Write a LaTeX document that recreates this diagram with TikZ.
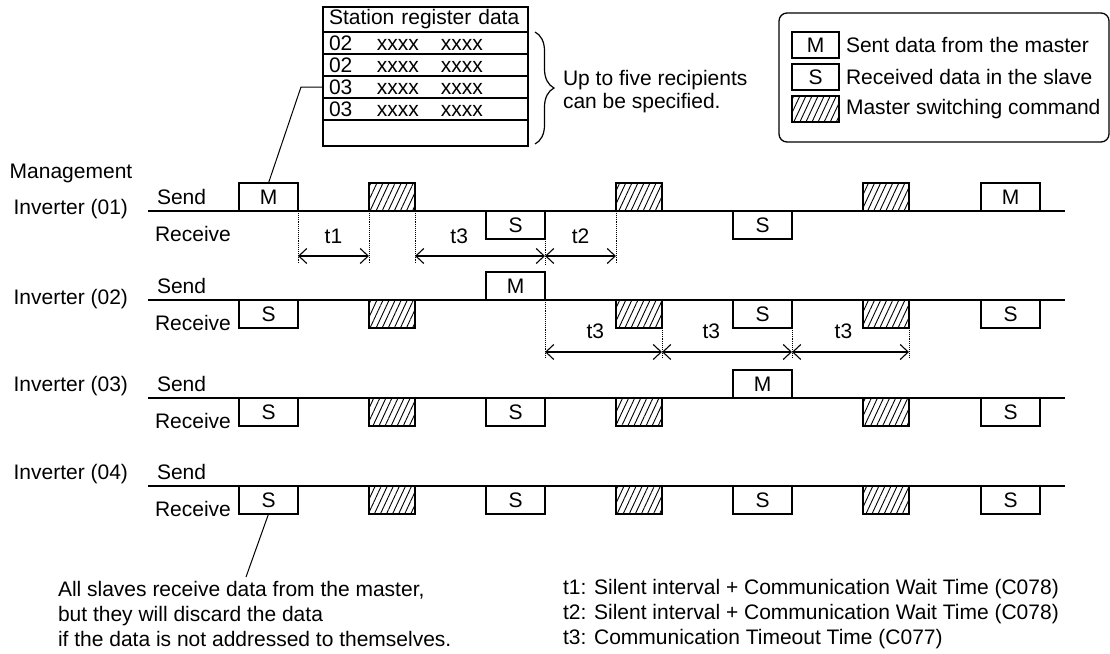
\documentclass[tikz,border=0pt]{standalone}
\usepackage{fontspec}
\setmainfont{Liberation Sans}
\usetikzlibrary{arrows.meta, positioning, patterns.meta, decorations.pathreplacing}
\newcommand{\regline}[1]{\makebox[48pt][l]{#1}\makebox[64pt][l]{xxxx}xxxx}

\begin{document}
\begin{tikzpicture}[
  x=1pt, y=-1pt,
  every node/.style={font=\fontsize{21pt}{23.5pt}\selectfont, inner sep=0pt, outer sep=0pt},
  hatch/.style={pattern={Lines[angle=65, distance=5.5pt, line width=0.9pt]}},
  sbox/.style={draw, line width=1.3pt, minimum width=59pt, minimum height=28pt},
  hbox/.style={draw, line width=1.3pt, minimum width=46pt, minimum height=28pt, hatch},
  lbox/.style={draw, line width=1.3pt, minimum width=47pt, minimum height=26pt},
  abv/.style={anchor=south west},
  blw/.style={anchor=north west},
  lbl/.style={anchor=west},
  tline/.style={line width=1.8pt},
  guide/.style={densely dotted, line width=0.9pt},
  span/.style={{Straight Barb[length=8pt, width=15pt]}-{Straight Barb[length=8pt, width=15pt]},
               line width=1.1pt},
  regrow/.style={draw, line width=1.3pt, minimum height=22pt, text width=193pt,
                 inner xsep=6pt, align=left},
]
\useasboundingbox (0,0) rectangle (1110,653);

% station register table
\node[regrow, minimum height=25pt, anchor=north west] (hd) at (323,7) {Station register data};
\node[regrow, below=0pt of hd] (reg1) {\regline{02}};
\node[regrow, below=0pt of reg1] (reg2) {\regline{02}};
\node[regrow, below=0pt of reg2] (reg3) {\regline{03}};
\node[regrow, below=0pt of reg3] (reg4) {\regline{03}};
\node[regrow, minimum height=26pt, below=0pt of reg4] (reg5) {};
\draw[decorate, decoration={brace, amplitude=19pt}, line width=1.2pt]
  ([xshift=7pt]reg1.north east) -- ([xshift=7pt, yshift=2pt]reg5.south east);
\node[lbl, align=left] (rcp) at (563,91.5)
  {Up to five recipients\\can be specified.};

% legend
\node[draw, line width=1.3pt, rounded corners=8pt, minimum width=330pt,
      minimum height=129pt, anchor=north west] (lgd) at (779,13) {};
\node[lbox, anchor=north west] (lm) at (792,32) {M};
\node[lbox, below=6pt of lm] (ls) {S};
\node[lbox, hatch, below=6pt of ls] (lh) {};
\node[right=7pt of lm] (lmt) {Sent data from the master};
\node[right=7pt of ls] (lst) {Received data in the slave};
\node[right=7pt of lh] (lht) {Master switching command};

% row labels
\node (mgmt) at (71,173) {Management};
\node[anchor=east] (inv1) at (128,209) {Inverter (01)};
\node[anchor=east] (inv2) at (128,299) {Inverter (02)};
\node[anchor=east] (inv3) at (128,386) {Inverter (03)};
\node[anchor=east] (inv4) at (128,474) {Inverter (04)};
\foreach \r/\y in {1/211, 2/300, 3/398, 4/486} {
  \node[lbl] (snd\r) at (157,\y-14) {Send};
  \node[lbl] (rcv\r) at (155,\y+23) {Receive};
}

% inverter 01
\node[sbox, abv] (r1a) at (239,211) {M};
\node[hbox, abv] (r1b) at (369,211) {};
\node[sbox, blw] (r1c) at (486,211) {S};
\node[hbox, abv] (r1d) at (616,211) {};
\node[sbox, blw] (r1e) at (733,211) {S};
\node[hbox, abv] (r1f) at (863,211) {};
\node[sbox, abv] (r1g) at (981,211) {M};
% inverter 02
\node[sbox, blw] (r2a) at (239,300) {S};
\node[hbox, blw] (r2b) at (369,300) {};
\node[sbox, abv] (r2c) at (486,300) {M};
\node[hbox, blw] (r2d) at (616,300) {};
\node[sbox, blw] (r2e) at (733,300) {S};
\node[hbox, blw] (r2f) at (863,300) {};
\node[sbox, blw] (r2g) at (981,300) {S};
% inverter 03
\node[sbox, blw] (r3a) at (239,398) {S};
\node[hbox, blw] (r3b) at (369,398) {};
\node[sbox, blw] (r3c) at (486,398) {S};
\node[hbox, blw] (r3d) at (616,398) {};
\node[sbox, abv] (r3e) at (733,398) {M};
\node[hbox, blw] (r3f) at (863,398) {};
\node[sbox, blw] (r3g) at (981,398) {S};
% inverter 04
\node[sbox, blw] (r4a) at (239,486) {S};
\node[hbox, blw] (r4b) at (369,486) {};
\node[sbox, blw] (r4c) at (486,486) {S};
\node[hbox, blw] (r4d) at (616,486) {};
\node[sbox, blw] (r4e) at (733,486) {S};
\node[hbox, blw] (r4f) at (863,486) {};
\node[sbox, blw] (r4g) at (981,486) {S};

\foreach \y in {211, 300, 398, 486}
  \draw[tline] (148,\y) -- (1065,\y);

% timing spans
\coordinate (d1) at (0,256);
\coordinate (e1) at (0,264);
\foreach \p in {r1a.south east, r1b.south west, r1b.south east, r1c.south east, r1d.south west}
  \draw[guide] (\p) -- (\p |- e1);
\draw[span] (r1a.south east |- d1) -- node[above=12pt] {t1} (r1b.south west |- d1);
\draw[span] (r1b.south east |- d1) -- node[pos=0.34, above=12pt] {t3} (r1c.south east |- d1);
\draw[span] (r1c.south east |- d1) -- node[above=12pt] {t2} (r1d.south west |- d1);

\coordinate (d2) at (0,352);
\coordinate (e2) at (0,358);
\foreach \p in {r2c.south east, r2d.south east, r2e.south east, r2f.south east}
  \draw[guide] (\p) -- (\p |- e2);
\draw[span] (r2c.south east |- d2) -- node[pos=0.43, above=13pt] {t3} (r2d.south east |- d2);
\draw[span] (r2d.south east |- d2) -- node[pos=0.38, above=13pt] {t3} (r2e.south east |- d2);
\draw[span] (r2e.south east |- d2) -- node[pos=0.44, above=13pt] {t3} (r2f.south east |- d2);

% leaders and notes
\draw[line width=1pt] (reg3.west) -- ++(-22,0) -- (r1a.north);
\coordinate (lead) at (246,577);
\draw[line width=1pt] (r4a.south) -- (lead);
\node[lbl, align=left] (note) at (58,614) {All slaves receive data from the master,\\[1.5pt]
  but they will discard the data\\[1.5pt]if the data is not addressed to themselves.};
\node[lbl, align=left] (tdef) at (563,614) {t1: Silent interval + Communication Wait Time (C078)\\[1.5pt]
  t2: Silent interval + Communication Wait Time (C078)\\[1.5pt]t3: Communication Timeout Time (C077)};
\end{tikzpicture}
\end{document}
